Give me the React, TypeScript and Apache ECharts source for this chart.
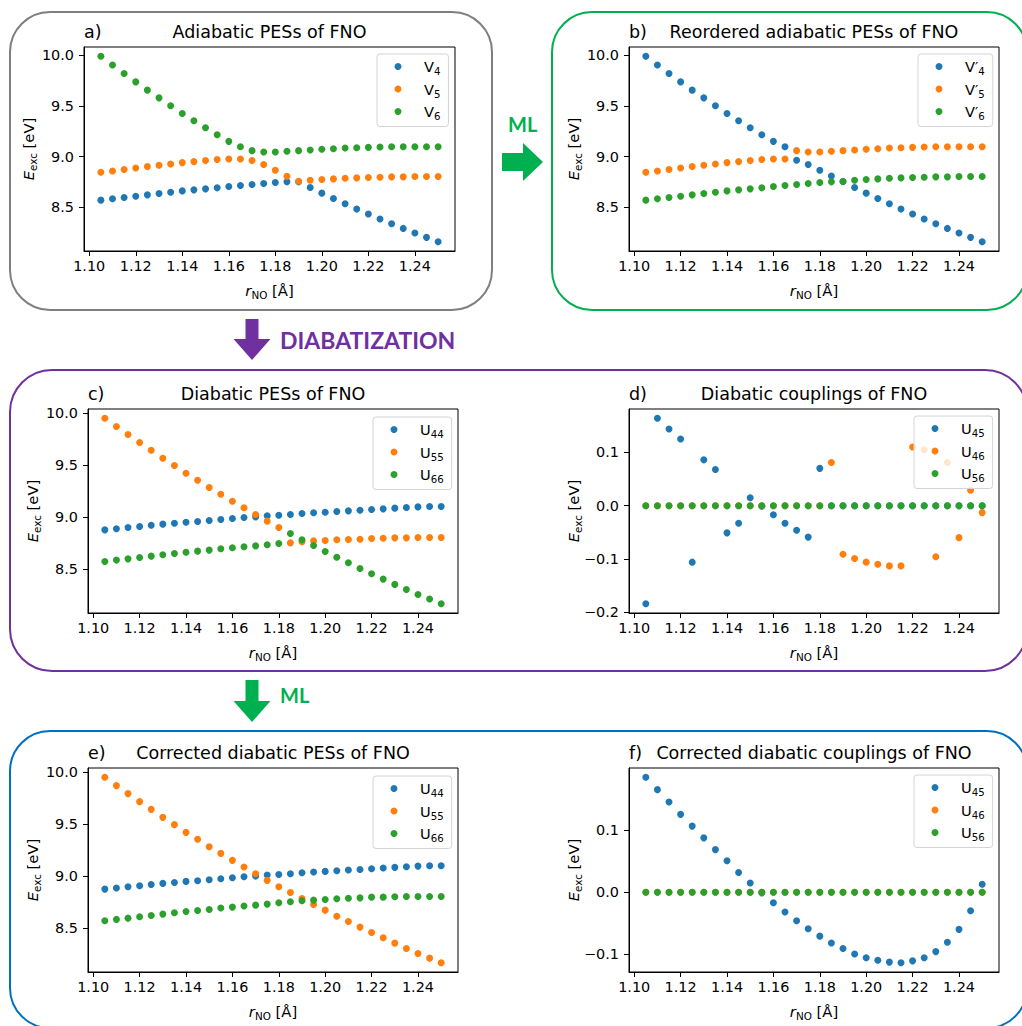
import React, { useEffect, useRef } from "react";
import * as echarts from "echarts";

// ---------------- data ----------------
const rNO = [1.105, 1.11, 1.115, 1.12, 1.125, 1.13, 1.135, 1.14, 1.145, 1.15, 1.155, 1.16, 1.165, 1.17, 1.175, 1.18, 1.185, 1.19, 1.195, 1.2, 1.205, 1.21, 1.215, 1.22, 1.225, 1.23, 1.235, 1.24, 1.245, 1.25];

const xTicks = [1.1, 1.12, 1.14, 1.16, 1.18, 1.2, 1.22, 1.24];
const pesTicks = [8.5, 9.0, 9.5, 10.0];
const couplingTicksD = [-0.2, -0.1, 0.0, 0.1];
const couplingTicksF = [-0.1, 0.0, 0.1];

// a) adiabatic
const V4 = [8.572, 8.585, 8.598, 8.611, 8.624, 8.637, 8.650, 8.663, 8.673, 8.683, 8.693, 8.706, 8.716, 8.725, 8.735, 8.745, 8.752, 8.752, 8.696, 8.641, 8.588, 8.536, 8.484, 8.435, 8.386, 8.340, 8.294, 8.248, 8.206, 8.163];
const V5 = [8.846, 8.859, 8.873, 8.889, 8.902, 8.915, 8.928, 8.941, 8.951, 8.961, 8.971, 8.977, 8.977, 8.961, 8.922, 8.866, 8.807, 8.758, 8.768, 8.775, 8.781, 8.788, 8.791, 8.794, 8.797, 8.801, 8.801, 8.804, 8.804, 8.804];
const V6 = [9.987, 9.902, 9.817, 9.735, 9.654, 9.578, 9.500, 9.425, 9.353, 9.284, 9.216, 9.150, 9.098, 9.059, 9.046, 9.046, 9.052, 9.059, 9.065, 9.072, 9.078, 9.085, 9.088, 9.091, 9.095, 9.098, 9.098, 9.098, 9.098, 9.098];

// b) reordered adiabatic
const Vp4 = [9.987, 9.902, 9.817, 9.735, 9.654, 9.578, 9.500, 9.425, 9.353, 9.284, 9.216, 9.150, 9.098, 8.964, 8.922, 8.866, 8.810, 8.755, 8.696, 8.641, 8.588, 8.536, 8.484, 8.435, 8.386, 8.340, 8.294, 8.248, 8.206, 8.163];
const Vp5 = [8.846, 8.859, 8.873, 8.889, 8.902, 8.915, 8.928, 8.941, 8.951, 8.961, 8.971, 8.977, 8.977, 9.059, 9.046, 9.046, 9.052, 9.059, 9.065, 9.072, 9.078, 9.085, 9.088, 9.091, 9.095, 9.098, 9.098, 9.098, 9.098, 9.098];
const Vp6 = [8.572, 8.585, 8.598, 8.611, 8.624, 8.637, 8.650, 8.663, 8.673, 8.683, 8.693, 8.706, 8.716, 8.725, 8.735, 8.745, 8.752, 8.755, 8.768, 8.775, 8.781, 8.788, 8.791, 8.794, 8.797, 8.801, 8.801, 8.804, 8.804, 8.804];

// c) diabatic
const U44 = [8.878, 8.888, 8.901, 8.910, 8.923, 8.933, 8.942, 8.952, 8.958, 8.968, 8.978, 8.987, 8.997, 9.003, 9.013, 9.019, 9.026, 9.035, 9.042, 9.048, 9.054, 9.061, 9.067, 9.074, 9.080, 9.087, 9.093, 9.099, 9.103, 9.103];
const U55c = [9.952, 9.872, 9.795, 9.718, 9.644, 9.567, 9.497, 9.423, 9.356, 9.285, 9.221, 9.154, 9.090, 9.026, 8.962, 8.901, 8.753, 8.763, 8.772, 8.776, 8.782, 8.785, 8.788, 8.795, 8.798, 8.801, 8.801, 8.804, 8.804, 8.804];
const U66c = [8.574, 8.587, 8.599, 8.612, 8.625, 8.638, 8.651, 8.663, 8.673, 8.683, 8.696, 8.705, 8.715, 8.724, 8.734, 8.747, 8.843, 8.782, 8.728, 8.670, 8.615, 8.561, 8.506, 8.455, 8.404, 8.353, 8.304, 8.256, 8.212, 8.167];

// d) diabatic couplings
const U45d = [-0.184, 0.164, 0.144, 0.125, -0.106, 0.086, 0.068, -0.051, -0.033, 0.015, -0.001, -0.017, -0.033, -0.046, -0.059, 0.070, 0, 0, 0, 0, 0, 0, 0, 0, 0, 0, 0, 0, 0, 0];
const U46d = [0, 0, 0, 0, 0, 0, 0, 0, 0, 0, 0, 0, 0, 0, 0, 0, 0.081, -0.091, -0.099, -0.106, -0.110, -0.113, -0.113, 0.110, 0.105, -0.096, 0.081, -0.060, 0.029, -0.013];
const U56d = [0, 0, 0, 0, 0, 0, 0, 0, 0, 0, 0, 0, 0, 0, 0, 0, 0, 0, 0, 0, 0, 0, 0, 0, 0, 0, 0, 0, 0, 0];

// e) corrected diabatic
const U55e = [9.952, 9.872, 9.795, 9.718, 9.644, 9.567, 9.497, 9.423, 9.356, 9.285, 9.221, 9.154, 9.090, 9.026, 8.962, 8.901, 8.845, 8.788, 8.730, 8.676, 8.618, 8.567, 8.513, 8.462, 8.411, 8.359, 8.308, 8.260, 8.215, 8.171];
const U66e = [8.574, 8.587, 8.599, 8.612, 8.625, 8.638, 8.651, 8.663, 8.673, 8.683, 8.696, 8.705, 8.715, 8.724, 8.734, 8.747, 8.756, 8.766, 8.772, 8.778, 8.785, 8.791, 8.794, 8.801, 8.801, 8.804, 8.807, 8.807, 8.807, 8.807];

// f) corrected couplings
const U45f = [0.186, 0.166, 0.146, 0.126, 0.107, 0.088, 0.069, 0.051, 0.032, 0.015, -0.001, -0.017, -0.032, -0.046, -0.059, -0.071, -0.082, -0.091, -0.100, -0.106, -0.110, -0.113, -0.114, -0.111, -0.106, -0.096, -0.081, -0.060, -0.030, 0.013];
const U46f = [0, 0, 0, 0, 0, 0, 0, 0, 0, 0, 0, 0, 0, 0, 0, 0, 0, 0, 0, 0, 0, 0, 0, 0, 0, 0, 0, 0, 0, 0];
const U56f = [0, 0, 0, 0, 0, 0, 0, 0, 0, 0, 0, 0, 0, 0, 0, 0, 0, 0, 0, 0, 0, 0, 0, 0, 0, 0, 0, 0, 0, 0];

// ---------------- styling / layout ----------------
const COLORS = ["#1f77b4", "#ff7f0e", "#2ca02c"];
const FONT = "DejaVu Sans";
const TICK_FS = 14.4;
const TITLE_FS = 17.5;

type Panel = {
  tag: string;
  title: string;
  grid: { left: number; top: number; width: number; height: number };
  legend: { left: number; top: number };
  names: string[];
  values: number[][];
  yTicks: number[];
  yDigits: number;
};

const panels: Panel[] = [
  { tag: "a)", title: "Adiabatic PESs of FNO", grid: { left: 84, top: 47, width: 371, height: 204 }, legend: { left: 377, top: 54 }, names: ["V4", "V5", "V6"], values: [V4, V5, V6], yTicks: pesTicks, yDigits: 1 },
  { tag: "b)", title: "Reordered adiabatic PESs of FNO", grid: { left: 629, top: 47, width: 370, height: 204 }, legend: { left: 918, top: 54 }, names: ["V\u20324", "V\u20325", "V\u20326"], values: [Vp4, Vp5, Vp6], yTicks: pesTicks, yDigits: 1 },
  { tag: "c)", title: "Diabatic PESs of FNO", grid: { left: 88, top: 409, width: 370, height: 204 }, legend: { left: 373, top: 417 }, names: ["U44", "U55", "U66"], values: [U44, U55c, U66c], yTicks: pesTicks, yDigits: 1 },
  { tag: "d)", title: "Diabatic couplings of FNO", grid: { left: 629, top: 409, width: 370, height: 204 }, legend: { left: 914, top: 416 }, names: ["U45", "U46", "U56"], values: [U45d, U46d, U56d], yTicks: couplingTicksD, yDigits: 1 },
  { tag: "e)", title: "Corrected diabatic PESs of FNO", grid: { left: 88, top: 768, width: 370, height: 204 }, legend: { left: 373, top: 776 }, names: ["U44", "U55", "U66"], values: [U44, U55e, U66e], yTicks: pesTicks, yDigits: 1 },
  { tag: "f)", title: "Corrected diabatic couplings of FNO", grid: { left: 629, top: 768, width: 370, height: 204 }, legend: { left: 914, top: 775 }, names: ["U45", "U46", "U56"], values: [U45f, U46f, U56f], yTicks: couplingTicksF, yDigits: 1 },
];

function limits(arrs: number[][]): [number, number] {
  let lo = Infinity;
  let hi = -Infinity;
  arrs.forEach((a) => a.forEach((v) => { if (v < lo) lo = v; if (v > hi) hi = v; }));
  const pad = (hi - lo) * 0.05;
  return [lo - pad, hi + pad];
}

const fmtNum = (v: number, d: number) => {
  const r = Number(v.toFixed(d));
  return (r < 0 ? "\u2212" : "") + Math.abs(r).toFixed(d);
};

const nameRich = {
  m: { fontSize: 14.8, fontFamily: FONT, color: "#000", lineHeight: 20 },
  i: { fontSize: 14.8, fontFamily: FONT, fontStyle: "italic", color: "#000", lineHeight: 20 },
  s: { fontSize: 10.4, fontFamily: FONT, color: "#000", lineHeight: 12, verticalAlign: "bottom" },
};
const legendRich = {
  m: { fontSize: 14.6, fontFamily: FONT, color: "#000", lineHeight: 20 },
  s: { fontSize: 10.2, fontFamily: FONT, color: "#000", lineHeight: 12, verticalAlign: "bottom" },
};

function buildOption() {
  const xr = limits([rNO]);
  const grid: any[] = [];
  const xAxis: any[] = [];
  const yAxis: any[] = [];
  const series: any[] = [];
  const legend: any[] = [];
  const title: any[] = [];

  panels.forEach((p, i) => {
    grid.push({ ...p.grid, show: true, borderColor: "#000", borderWidth: 1, backgroundColor: "transparent", outerBoundsMode: "none" });
    xAxis.push({
      type: "value", gridIndex: i, min: xr[0], max: xr[1],
      name: "{i|r}{s|NO}{m| [\u00c5]}", nameLocation: "middle", nameGap: 29, nameMoveOverlap: false,
      nameTextStyle: { rich: nameRich },
      axisLine: { show: true, onZero: false, lineStyle: { color: "#000", width: 1 } },
      axisTick: { show: true, length: 5, lineStyle: { color: "#000" }, customValues: xTicks },
      axisLabel: { customValues: xTicks, formatter: (v: number) => v.toFixed(2), color: "#000", fontSize: TICK_FS, fontFamily: FONT, margin: 8 },
      splitLine: { show: false },
    });
    const yr = limits(p.values);
    yAxis.push({
      type: "value", gridIndex: i, min: yr[0], max: yr[1],
      name: "{i|E}{s|exc}{m| [eV]}", nameLocation: "middle", nameGap: 46, nameMoveOverlap: false,
      nameTextStyle: { rich: nameRich },
      axisLine: { show: true, onZero: false, lineStyle: { color: "#000", width: 1 } },
      axisTick: { show: true, length: 5, lineStyle: { color: "#000" }, customValues: p.yTicks },
      axisLabel: { customValues: p.yTicks, formatter: (v: number) => fmtNum(v, p.yDigits), color: "#000", fontSize: TICK_FS, fontFamily: FONT, margin: 10 },
      splitLine: { show: false },
    });
    p.names.forEach((n, k) => {
      series.push({
        type: "scatter", name: n, xAxisIndex: i, yAxisIndex: i,
        data: rNO.map((x, j) => [x, p.values[k][j]]),
        symbol: "circle", symbolSize: 7,
        itemStyle: { color: COLORS[k], opacity: 1 },
        z: 2 + k, silent: true,
      });
    });
    legend.push({
      data: p.names, left: p.legend.left, top: p.legend.top, orient: "vertical",
      icon: "circle", itemWidth: 42, itemHeight: 7, itemGap: 5,
      padding: [5, 8, 5, 17.5], backgroundColor: "rgba(255,255,255,0.8)",
      borderColor: "#d4d4d4", borderWidth: 1, borderRadius: 3,
      selectedMode: false,
      formatter: (name: string) => {
        const m = name.match(/^(.*?)(\d+)$/);
        return m ? `{m|${m[1]}}{s|${m[2]}}` : name;
      },
      textStyle: { color: "#000", fontSize: 14.6, fontFamily: FONT, rich: legendRich },
    });
    const cy = p.grid.top - 15;
    title.push({ text: p.tag, left: p.grid.left, top: cy - TITLE_FS / 2, padding: 0, textStyle: { fontSize: TITLE_FS, fontWeight: "normal", color: "#000", fontFamily: FONT } });
    title.push({ text: p.title, left: p.grid.left + p.grid.width / 2, textAlign: "center", top: cy - TITLE_FS / 2, padding: 0, textStyle: { fontSize: TITLE_FS, fontWeight: "normal", color: "#000", fontFamily: FONT } });
  });

  const GREEN = "#00b050";
  const PURPLE = "#7030a0";
  const box = (x: number, y: number, w: number, h: number, r: number, c: string) => ({
    type: "rect", silent: true, z: -1,
    shape: { x, y, width: w, height: h, r },
    style: { fill: "none", stroke: c, lineWidth: 2 },
  });
  const label = (x: number, y: number, t: string, c: string, fs: number) => ({
    type: "text", silent: true, x, y,
    style: { text: t, fill: c, font: `bold ${fs}px Lato`, align: "left", verticalAlign: "middle", textAlign: "left", textVerticalAlign: "middle" },
  });
  const downArrow = (cx: number, top: number, headY: number, tip: number, c: string) => ({
    type: "polygon", silent: true,
    shape: { points: [[cx - 6.5, top], [cx + 6.5, top], [cx + 6.5, headY], [cx + 18.5, headY], [cx, tip], [cx - 18.5, headY], [cx - 6.5, headY]] },
    style: { fill: c },
  });

  const graphic = [
    box(10, 12, 482, 298, 40, "#7f7f7f"),
    box(552, 12, 475, 298, 40, GREEN),
    box(10, 370, 1017, 301, 42, PURPLE),
    box(10, 731, 1017, 297, 40, "#0070c0"),
    {
      type: "polygon", silent: true,
      shape: { points: [[502, 153], [523, 153], [523, 143], [543, 162], [523, 181], [523, 171], [502, 171]] },
      style: { fill: GREEN },
    },
    label(508, 124, "ML", GREEN, 20),
    downArrow(252, 319, 339, 360, PURPLE),
    label(280, 340, "DIABATIZATION", PURPLE, 23),
    downArrow(252, 680, 701, 722, GREEN),
    label(280, 695, "ML", GREEN, 20),
  ];

  return {
    animation: false,
    backgroundColor: "#fff",
    textStyle: { fontFamily: FONT },
    title, grid, xAxis, yAxis, series, legend, graphic,
  };
}

export default function App() {
  const ref = useRef<HTMLDivElement>(null);
  useEffect(() => {
    if (!ref.current) return;
    const chart = echarts.init(ref.current, undefined, { renderer: "svg" });
    chart.setOption(buildOption() as any);
    return () => chart.dispose();
  }, []);
  return <div ref={ref} style={{ position: "absolute", left: 0, top: 0, width: 1022, height: 1026 }} />;
}
